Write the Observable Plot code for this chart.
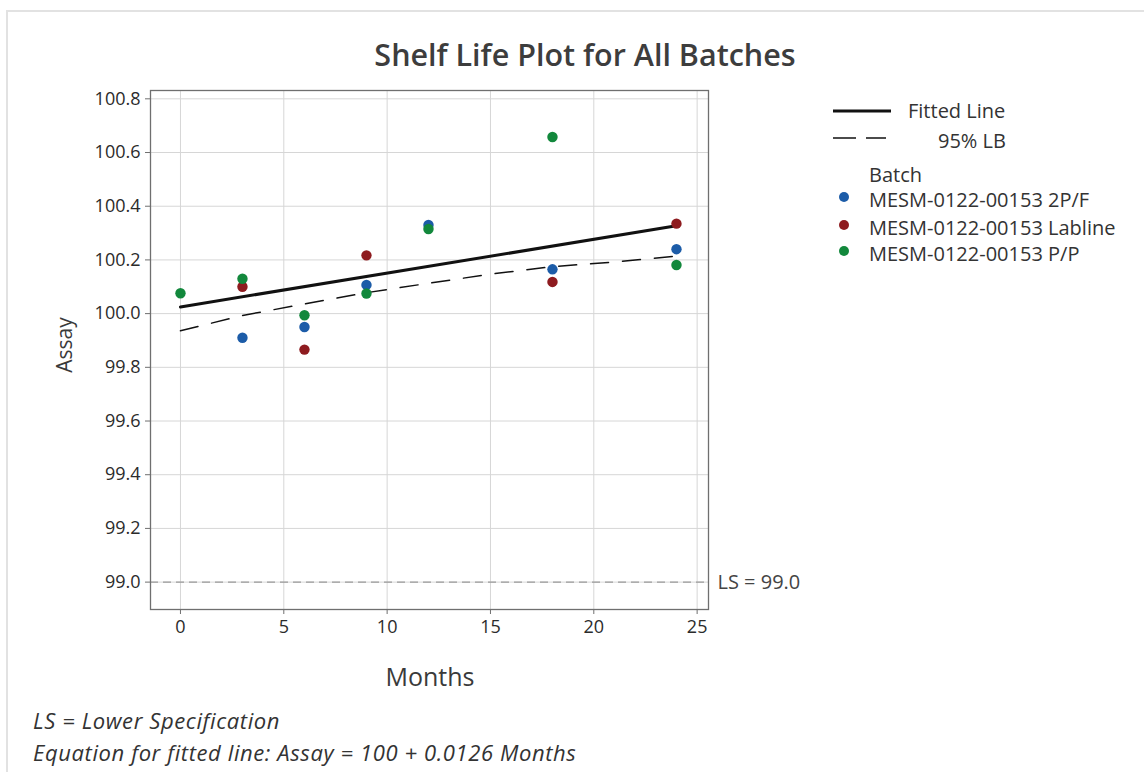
<!DOCTYPE html>
<html>
<head>
<meta charset="utf-8">
<script src="https://cdn.jsdelivr.net/npm/d3@7"></script>
<script src="https://cdn.jsdelivr.net/npm/@observablehq/plot@0.6"></script>
<style>
  html, body { margin: 0; padding: 0; background: #fff; }
  #wrap { position: relative; width: 1144px; height: 772px; overflow: hidden; font-family: "Open Sans", "Noto Sans", sans-serif; color: #333; }
  #edge { position: absolute; left: 6px; top: 10px; right: -10px; bottom: -10px; border-top: 2px solid #e2e2e2; border-left: 2px solid #e2e2e2; }
  #chart { position: absolute; left: 0; top: 0; }
  .abs { position: absolute; white-space: nowrap; line-height: 1.3; }
  #title { left: 585px; top: 35px; transform: translateX(-50%); font-size: 30.5px; font-weight: 600; color: #3d3d3d; }
  #ylab { left: 65px; top: 345px; transform: translate(-50%, -50%) rotate(-90deg); font-size: 21px; color: #3a3a3a; }
  #xlab { left: 430px; top: 676px; transform: translate(-50%, -50%); font-size: 25px; color: #3a3a3a; }
  .foot { left: 33px; font-size: 22px; font-style: italic; color: #333; letter-spacing: 0.6px; }
  .leg { font-size: 20px; color: #333; }
</style>
</head>
<body>
<div id="wrap">
  <div id="edge"></div>
  <div id="chart"></div>
  <div id="title" class="abs">Shelf Life Plot for All Batches</div>
  <div id="ylab" class="abs">Assay</div>
  <div id="xlab" class="abs">Months</div>
  <div id="legend"></div>
  <div class="abs foot" style="top:706px">LS = Lower Specification</div>
  <div class="abs foot" style="top:738px">Equation for fitted line: Assay = 100 + 0.0126 Months</div>
</div>
<script>
// ---- data ----
const batches = ["MESM-0122-00153 2P/F", "MESM-0122-00153 Labline", "MESM-0122-00153 P/P"];
const batchColors = ["#1c5ca8", "#8e1b1f", "#12883c"];

const months2PF = [3, 6, 9, 12, 18, 24];
const assay2PF  = [99.91, 99.95, 100.107, 100.33, 100.165, 100.24];

const monthsLab = [3, 6, 9, 18, 24];
const assayLab  = [100.10, 99.866, 100.217, 100.118, 100.335];

const monthsPP  = [0, 3, 6, 9, 12, 18, 24];
const assayPP   = [100.076, 100.13, 99.994, 100.075, 100.315, 100.658, 100.181];

const fitMonths = [0, 24];
const fitAssay  = [100.025, 100.327];

const lbMonths  = [0, 3, 6, 9, 12, 15, 18, 21, 24];
const lbAssay   = [99.936, 99.993, 100.036, 100.078, 100.113, 100.147, 100.175, 100.192, 100.214];

const lowerSpec = 99.0;
const xTicks = [0, 5, 10, 15, 20, 25];
const yTicks = [99.0, 99.2, 99.4, 99.6, 99.8, 100.0, 100.2, 100.4, 100.6, 100.8];

// ---- tables built from the arrays ----
const points = [
  ...months2PF.map((m, i) => ({month: m, assay: assay2PF[i], batch: batches[0]})),
  ...monthsLab.map((m, i) => ({month: m, assay: assayLab[i], batch: batches[1]})),
  ...monthsPP.map((m, i)  => ({month: m, assay: assayPP[i],  batch: batches[2]}))
];
const fitted = fitMonths.map((m, i) => ({month: m, assay: fitAssay[i]}));
const lb = lbMonths.map((m, i) => ({month: m, assay: lbAssay[i]}));

const plot = Plot.plot({
  width: 840,
  height: 680,
  marginLeft: 150,
  marginRight: 132,
  marginTop: 90,
  marginBottom: 71,
  style: {fontFamily: "Open Sans, Noto Sans, sans-serif", fontSize: "18px", background: "transparent"},
  x: {domain: [-1.45, 25.55]},
  y: {domain: [98.898, 100.831]},
  color: {domain: batches, range: batchColors},
  marks: [
    Plot.gridX(xTicks, {stroke: "#d6d6d6", strokeOpacity: 1}),
    Plot.gridY(yTicks, {stroke: "#d6d6d6", strokeOpacity: 1}),
    Plot.ruleY([lowerSpec], {stroke: "#9a9a9a", strokeWidth: 1.3, strokeDasharray: "8,5"}),
    Plot.frame({stroke: "#6f6f6f", strokeWidth: 1.3}),
    Plot.axisX(xTicks, {tickSize: 5, tickPadding: 6, stroke: "#6f6f6f", fill: "#2b2b2b", label: null, fontSize: 18}),
    Plot.axisY(yTicks, {tickSize: 5, tickPadding: 5, stroke: "#6f6f6f", fill: "#2b2b2b", label: null, tickFormat: d => d.toFixed(1), fontSize: 18}),
    Plot.line(lb, {x: "month", y: "assay", stroke: "#111", strokeWidth: 1.5, strokeDasharray: "18,14"}),
    Plot.line(fitted, {x: "month", y: "assay", stroke: "#111", strokeWidth: 3}),
    Plot.dot(points, {x: "month", y: "assay", fill: "batch", r: 5.2}),
    Plot.text([lowerSpec], {y: d => d, frameAnchor: "right", dx: 9, textAnchor: "start", text: d => `LS = ${d.toFixed(1)}`, fill: "#444", fontSize: 20})
  ]
});
document.getElementById("chart").appendChild(plot);

// ---- legend (HTML) ----
const legend = document.getElementById("legend");
let html = "";
html += `<svg class="abs" style="left:830px;top:100px" width="70" height="50">
  <line x1="3" x2="61" y1="11" y2="11" stroke="#111" stroke-width="3"/>
  <line x1="3" x2="56" y1="38" y2="38" stroke="#111" stroke-width="1.5" stroke-dasharray="23,10"/>
</svg>`;
html += `<div class="abs leg" style="left:908px;top:98px">Fitted Line</div>`;
html += `<div class="abs leg" style="left:938px;top:128px">95% LB</div>`;
html += `<div class="abs leg" style="left:869px;top:162px">Batch</div>`;
const rowCenters = [200, 228, 254];
batches.forEach((b, i) => {
  const c = rowCenters[i];
  html += `<svg class="abs" style="left:836px;top:${c - 11}px" width="16" height="16"><circle cx="8" cy="8" r="5" fill="${batchColors[i]}"/></svg>`;
  html += `<div class="abs leg" style="left:869px;top:${c - 13}px">${b}</div>`;
});
legend.innerHTML = html;
</script>
</body>
</html>
